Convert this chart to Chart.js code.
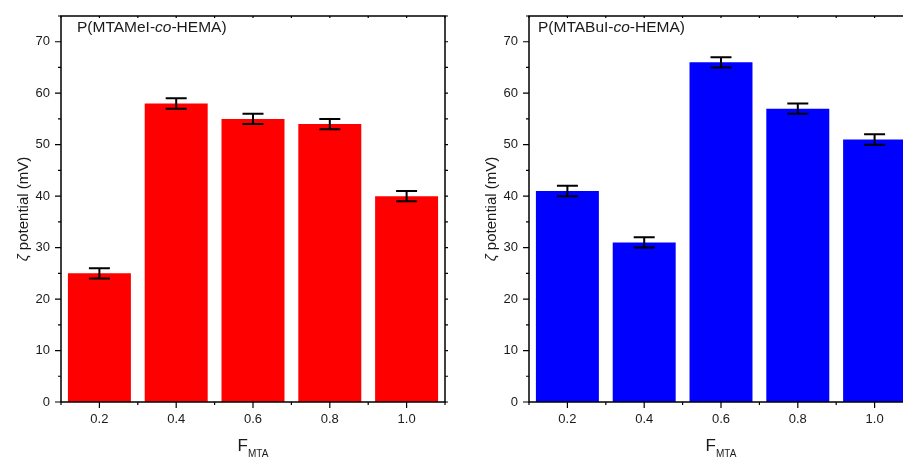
<!DOCTYPE html>
<html>
<head>
<meta charset="utf-8">
<script src="https://cdn.jsdelivr.net/npm/chart.js@4/dist/chart.umd.min.js"></script>
<style>
  html, body { margin: 0; padding: 0; background: #fff; overflow: hidden; }
  #wrap { position: relative; width: 903px; height: 458px; overflow: hidden; }
  .box { position: absolute; top: 0; width: 452px; height: 458px; }
</style>
</head>
<body>
<div id="wrap">
  <div class="box" style="left:0"><canvas id="chart-mei"></canvas></div>
  <div class="box" style="left:468px"><canvas id="chart-bui"></canvas></div>
</div>
<script>
// datos
const fmta = ['0.2', '0.4', '0.6', '0.8', '1.0'];
const zetaMeI = [25, 58, 55, 54, 40];
const errMeI = [1, 1, 1, 1, 1];
const zetaBuI = [41, 31, 66, 57, 51];
const errBuI = [1, 1, 1, 1, 1];
const yTicks = [0, 10, 20, 30, 40, 50, 60, 70];

const FONT = "'Liberation Sans', Arial, sans-serif";
const INK = '#1a1a1a';

// marco, ticks, barras de error y textos
const decoPlugin = {
    id: 'deco',
    afterDatasetsDraw(chart) {
        const ctx = chart.ctx;
        const y = chart.scales.y;
        const meta = chart.getDatasetMeta(0);
        const errs = chart.options.plugins.deco.errors;
        const vals = chart.data.datasets[0].data;
        ctx.save();
        ctx.strokeStyle = '#000';
        ctx.lineWidth = 2;
        meta.data.forEach((bar, i) => {
            const top = y.getPixelForValue(vals[i] + errs[i]);
            const bot = y.getPixelForValue(vals[i] - errs[i]);
            ctx.beginPath();
            ctx.moveTo(bar.x, top); ctx.lineTo(bar.x, bot);
            ctx.moveTo(bar.x - 10.5, top); ctx.lineTo(bar.x + 10.5, top);
            ctx.moveTo(bar.x - 10.5, bot); ctx.lineTo(bar.x + 10.5, bot);
            ctx.stroke();
        });
        ctx.restore();
    },
    afterDraw(chart) {
        const ctx = chart.ctx;
        const a = chart.chartArea;
        const x = chart.scales.x;
        const y = chart.scales.y;
        const opts = chart.options.plugins.deco;
        ctx.save();
        ctx.strokeStyle = '#000';
        ctx.lineWidth = 1.5;
        ctx.strokeRect(a.left, a.top, a.right - a.left, a.bottom - a.top);

        ctx.lineWidth = 1.2;
        ctx.beginPath();
        // eje y: mayores cada 10, menores cada 5
        for (let v = 0; v <= 75; v += 5) {
            const py = y.getPixelForValue(v);
            const len = v % 10 === 0 ? 6 : 3;
            ctx.moveTo(a.left, py); ctx.lineTo(a.left - len, py);
            ctx.moveTo(a.right, py); ctx.lineTo(a.right + 3, py);
        }
        // eje x: mayores en categorias, menores en los bordes
        for (let i = -0.5; i <= fmta.length - 0.5; i += 0.5) {
            const px = x.getPixelForValue(i);
            const len = Number.isInteger(i) ? 6 : 3;
            ctx.moveTo(px, a.bottom); ctx.lineTo(px, a.bottom + len);
            ctx.moveTo(px, a.top); ctx.lineTo(px, a.top + 2);
        }
        ctx.stroke();

        ctx.fillStyle = INK;
        // titulo dentro del grafico
        ctx.textBaseline = 'alphabetic';
        ctx.textAlign = 'left';
        let tx = a.left + opts.titleInset;
        const ty = a.top + 16;
        opts.title.forEach(part => {
            ctx.font = (part.italic ? 'italic ' : '') + '15.5px ' + FONT;
            ctx.fillText(part.text, tx, ty);
            tx += ctx.measureText(part.text).width;
        });

        // titulo eje x: F con subindice MTA
        ctx.font = '17px ' + FONT;
        const wF = ctx.measureText('F').width;
        ctx.font = '10px ' + FONT;
        const wS = ctx.measureText('MTA').width;
        const cx = (a.left + a.right) / 2 - (wF + wS) / 2;
        ctx.font = '17px ' + FONT;
        ctx.fillText('F', cx, 451);
        ctx.font = '10px ' + FONT;
        ctx.fillText('MTA', cx + wF, 457);

        // titulo eje y
        ctx.translate(opts.yTitleX, (a.top + a.bottom) / 2);
        ctx.rotate(-Math.PI / 2);
        ctx.textAlign = 'left';
        ctx.textBaseline = 'middle';
        const parts = [['\u03B6', true], [' potential (mV)', false]];
        let w = 0;
        parts.forEach(p => { ctx.font = (p[1] ? 'italic ' : '') + '15px ' + FONT; w += ctx.measureText(p[0]).width; });
        let px = -w / 2;
        parts.forEach(p => {
            ctx.font = (p[1] ? 'italic ' : '') + '15px ' + FONT;
            ctx.fillText(p[0], px, 0);
            px += ctx.measureText(p[0]).width;
        });
        ctx.restore();
    }
};

function makeChart(id, values, errors, color, title, titleInset) {
    return new Chart(document.getElementById(id), {
        type: 'bar',
        data: {
            labels: fmta,
            datasets: [{
                data: values,
                backgroundColor: color,
                borderWidth: 0,
                categoryPercentage: 1,
                barPercentage: 0.82
            }]
        },
        options: {
            responsive: true,
            maintainAspectRatio: false,
            animation: false,
            devicePixelRatio: 1,
            layout: { padding: { left: 0, top: 16, right: 7, bottom: 0 } },
            scales: {
                x: {
                    offset: true,
                    grid: { display: false, drawTicks: true, tickLength: 7 },
                    border: { display: false },
                    ticks: { color: INK, font: { family: FONT, size: 13 }, padding: 3 },
                    afterFit(s) { s.height = 56; }
                },
                y: {
                    min: 0,
                    max: 75,
                    grid: { display: false, drawTicks: true, tickLength: 7 },
                    border: { display: false },
                    ticks: {
                        stepSize: 10,
                        includeBounds: false,
                        color: INK,
                        font: { family: FONT, size: 13 },
                        padding: 4,
                        callback: v => yTicks.includes(v) ? v : ''
                    },
                    afterFit(s) { s.width = 61; }
                }
            },
            plugins: {
                legend: { display: false },
                tooltip: { enabled: false },
                deco: { errors: errors, title: title, titleInset: titleInset, yTitleX: 24 }
            }
        },
        plugins: [decoPlugin]
    });
}

makeChart('chart-mei', zetaMeI, errMeI, '#ff0000',
    [{ text: 'P(MTAMeI-' }, { text: 'co', italic: true }, { text: '-HEMA)' }], 16);
makeChart('chart-bui', zetaBuI, errBuI, '#0000ff',
    [{ text: 'P(MTABuI-' }, { text: 'co', italic: true }, { text: '-HEMA)' }], 9);
</script>
</body>
</html>
